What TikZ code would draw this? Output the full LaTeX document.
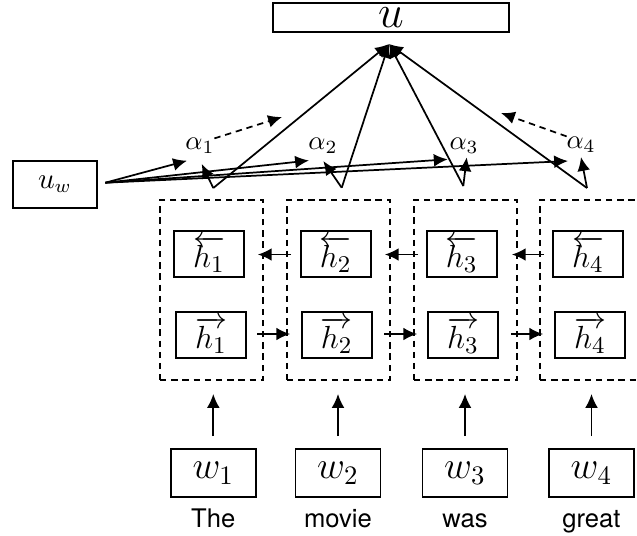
\documentclass[tikz,border=0pt]{standalone}
\usepackage{fontspec}
\setsansfont{TeX Gyre Heros}
\usetikzlibrary{arrows.meta,calc}
\tikzset{
  arr/.style={-{Latex[length=5.2pt,width=4.8pt]}},
  box/.style={draw,line width=0.65pt,inner sep=0pt},
  hbox/.style={box,minimum width=26.25pt,minimum height=17.25pt,font=\fontsize{13.2}{16}\selectfont},
  wbox/.style={box,minimum width=31.9pt,minimum height=18pt,font=\fontsize{13.8}{16}\selectfont},
  dbox/.style={draw,line width=0.65pt,dash pattern=on 2.4pt off 1.8pt,minimum width=38.6pt,minimum height=67.5pt,inner sep=0pt},
  lab/.style={inner sep=0pt},
  word/.style={font=\sffamily\fontsize{9.6}{11}\selectfont,inner sep=0pt,anchor=base},
}
\begin{document}
\begin{tikzpicture}[x=0.375pt,y=-0.375pt,line width=0.65pt]
\clip (0,0) rectangle (637,535);
% top node
\node[box,minimum width=88.5pt,minimum height=10.9pt,font=\fontsize{16.5}{17}\selectfont] (u) at (391,17.5) {$u$};
\node[box,minimum width=31.6pt,minimum height=17.6pt,font=\fontsize{10.5}{12}\selectfont] (uw) at (55,184.5) {$u_w$};
% alpha labels
\node[lab] (a1) at (200,146) {$\alpha_1$};
\node[lab] (a2) at (323,146) {$\alpha_2$};
\node[lab] (a3) at (464,146) {$\alpha_3$};
\node[lab] (a4) at (581,145) {$\alpha_4$};
% dashed groups
\foreach \i/\x in {1/211.5,2/338.5,3/465.5,4/591.5}{
  \node[dbox] (d\i) at (\x,290) {};
}
\node[hbox] (hb1) at (209,254) {$\overleftarrow{h_1}$};
\node[hbox] (hb2) at (335.7,254) {$\overleftarrow{h_2}$};
\node[hbox] (hb3) at (461.7,254) {$\overleftarrow{h_3}$};
\node[hbox] (hb4) at (588,254) {$\overleftarrow{h_4}$};
\node[hbox] (hf1) at (211,335) {$\overrightarrow{h_1}$};
\node[hbox] (hf2) at (336.7,335) {$\overrightarrow{h_2}$};
\node[hbox] (hf3) at (463,335) {$\overrightarrow{h_3}$};
\node[hbox] (hf4) at (590,335) {$\overrightarrow{h_4}$};
% words
\node[wbox] (w1) at (213.3,473) {$w_1$};
\node[wbox] (w2) at (338,473) {$w_2$};
\node[wbox] (w3) at (465,473) {$w_3$};
\node[wbox] (w4) at (591.5,473) {$w_4$};
\node[word] (t1) at (213.3,527.5) {The};
\node[word] (t2) at (338,527.5) {movie};
\node[word] (t3) at (465,527.5) {was};
\node[word] (t4) at (591.5,527.5) {great};
% input arrows
\foreach \i in {1,2,3,4}{
  \draw[arr,shorten <=4.5pt,shorten >=4.9pt] (w\i.north) -- (w\i.north |- d\i.south);
}
% recurrent arrows
\foreach \i/\j in {2/1,3/2,4/3}{
  \draw[arr] ($(d\i.west |- hb\i.west)+(5,0.5)$) -- ($(d\j.east |- hb\j.east)+(-6,0.5)$);
  \draw[arr] ($(d\j.east |- hf\j.east)+(-6.5,-1)$) -- ($(d\i.west |- hf\i.west)+(4,-1)$);
}
% attention
\coordinate (uin) at (389,44);
\coordinate (uwo) at (105.3,182.7);
\coordinate (p1) at (213.3,188);
\coordinate (p2) at (341.7,187.7);
\coordinate (p3) at (463.3,186);
\coordinate (p4) at (587,188);
\coordinate (q1) at (201.7,164);
\coordinate (q2) at (323.3,161);
\coordinate (q3) at (466.7,157.3);
\coordinate (q4) at (581,157);
\coordinate (r1) at (187,160.7);
\coordinate (r2) at (309,160.5);
\coordinate (r3) at (447.7,159.3);
\coordinate (r4) at (568,161);
\foreach \i in {1,2,3,4}{
  \draw[arr] (uwo) -- (r\i);
  \draw[arr] (p\i) -- (q\i);
  \draw[arr] (p\i) -- (uin);
}
\coordinate (s1) at (282,117);
\coordinate (s4) at (501,113);
\draw[arr,dash pattern=on 2.4pt off 1.8pt] ($(a1.north east)+(-1,1)$) -- (s1);
\draw[arr,dash pattern=on 2.4pt off 1.8pt] ($(a4.north west)+(1,0)$) -- (s4);
\end{tikzpicture}
\end{document}
